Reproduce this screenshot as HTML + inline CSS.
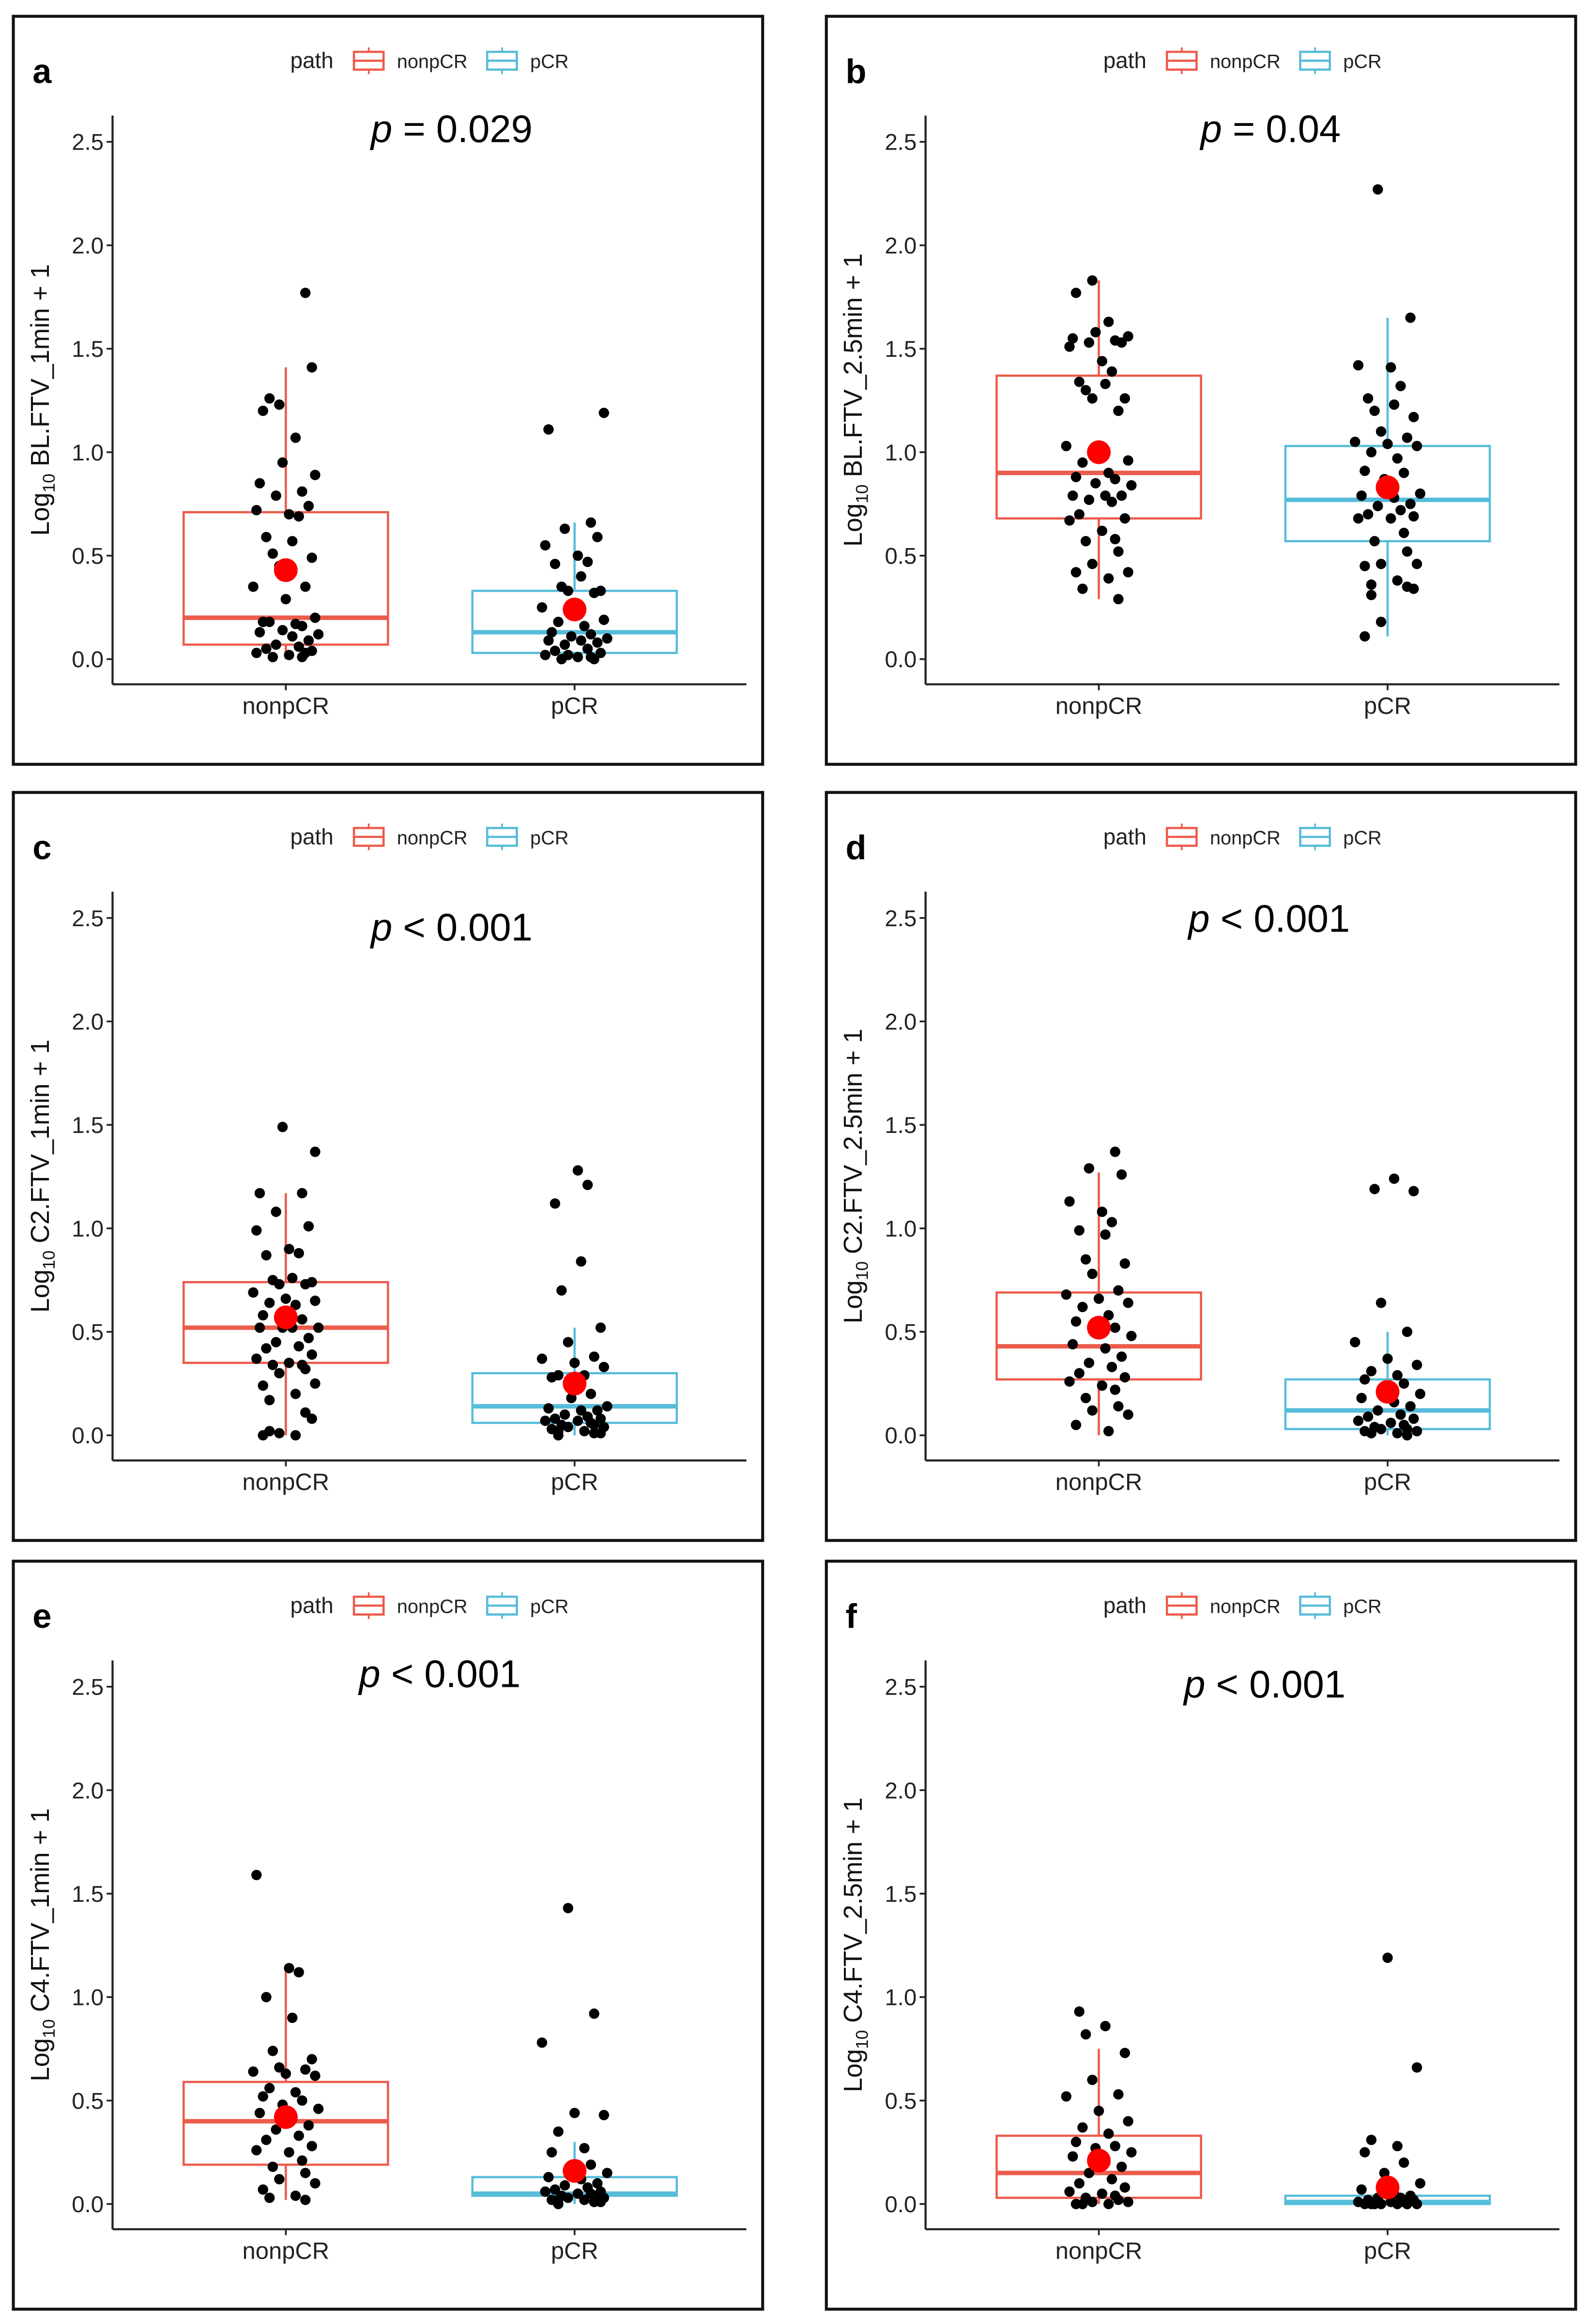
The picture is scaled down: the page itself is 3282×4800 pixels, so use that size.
<!DOCTYPE html>
<html><head><meta charset="utf-8">
<style>
html,body{margin:0;padding:0;background:#fff;}
svg{display:block;font-family:"Liberation Sans",Arial,sans-serif;}
</style></head>
<body>
<svg id="fig" width="3282" height="4800" viewBox="0 0 1073 1569" preserveAspectRatio="none" xmlns="http://www.w3.org/2000/svg"></svg>
<script>
const categories = ["nonpCR","pCR"];
const panelLetters = ["a","b","c","d","e","f"];
const pLabels = ["= 0.029","= 0.04","< 0.001","< 0.001","< 0.001","< 0.001"];
const yTitles = ["BL.FTV_1min + 1","BL.FTV_2.5min + 1","C2.FTV_1min + 1","C2.FTV_2.5min + 1","C4.FTV_1min + 1","C4.FTV_2.5min + 1"];
const yTicks = [0,0.5,1,1.5,2,2.5];
const yTickLabels = ["0.0","0.5","1.0","1.5","2.0","2.5"];

const valsA_non = [1.77,1.41,1.26,1.23,1.20,1.07,0.95,0.89,0.85,0.81,0.79,0.74,0.72,0.70,0.69,0.59,0.57,0.51,0.49,0.45,0.35,0.35,0.29,0.20,0.18,0.17,0.18,0.16,0.14,0.12,0.13,0.11,0.09,0.07,0.06,0.05,0.04,0.03,0.02,0.01,0.01,0.03];
const valsA_pcr = [1.19,1.11,0.66,0.63,0.59,0.55,0.50,0.47,0.46,0.40,0.35,0.33,0.33,0.32,0.25,0.23,0.19,0.18,0.16,0.13,0.12,0.11,0.10,0.09,0.09,0.08,0.07,0.05,0.04,0.03,0.02,0.01,0.01,0.0,0.0,0.02];
const valsB_non = [1.83,1.77,1.63,1.58,1.56,1.55,1.54,1.53,1.53,1.51,1.44,1.39,1.34,1.33,1.30,1.26,1.26,1.20,1.03,0.98,0.96,0.95,0.90,0.88,0.87,0.85,0.84,0.79,0.79,0.79,0.77,0.76,0.70,0.68,0.67,0.62,0.58,0.57,0.52,0.46,0.42,0.42,0.39,0.34,0.29];
const valsB_pcr = [2.27,1.65,1.42,1.41,1.32,1.26,1.23,1.20,1.17,1.10,1.07,1.05,1.04,1.03,1.00,0.97,0.91,0.90,0.87,0.80,0.79,0.78,0.75,0.74,0.72,0.70,0.69,0.68,0.68,0.61,0.57,0.52,0.46,0.46,0.45,0.38,0.36,0.35,0.34,0.31,0.18,0.11];
const valsC_non = [1.49,1.37,1.17,1.17,1.08,1.01,0.99,0.90,0.88,0.87,0.76,0.75,0.74,0.73,0.73,0.69,0.66,0.65,0.64,0.63,0.58,0.56,0.52,0.52,0.52,0.52,0.47,0.45,0.43,0.42,0.39,0.37,0.35,0.34,0.34,0.32,0.30,0.25,0.24,0.20,0.17,0.11,0.08,0.02,0.01,0.0,0.0];
const valsC_pcr = [1.28,1.21,1.12,0.84,0.70,0.52,0.45,0.38,0.37,0.35,0.33,0.29,0.29,0.28,0.20,0.18,0.14,0.13,0.12,0.12,0.10,0.09,0.08,0.08,0.07,0.07,0.06,0.05,0.05,0.04,0.04,0.03,0.02,0.02,0.01,0.01,0.0];
const valsD_non = [1.37,1.29,1.26,1.13,1.08,1.03,0.99,0.97,0.85,0.83,0.78,0.70,0.68,0.66,0.64,0.62,0.58,0.55,0.52,0.50,0.48,0.44,0.42,0.38,0.35,0.33,0.30,0.28,0.26,0.24,0.22,0.18,0.14,0.12,0.10,0.05,0.02];
const valsD_pcr = [1.24,1.19,1.18,0.64,0.50,0.45,0.37,0.34,0.31,0.29,0.27,0.25,0.22,0.20,0.18,0.16,0.14,0.12,0.10,0.09,0.08,0.07,0.06,0.05,0.04,0.03,0.03,0.02,0.02,0.01,0.01,0.0];
const valsE_non = [1.59,1.14,1.12,1.00,0.90,0.74,0.70,0.66,0.65,0.64,0.63,0.62,0.56,0.54,0.52,0.50,0.48,0.46,0.44,0.41,0.38,0.36,0.33,0.31,0.28,0.26,0.25,0.21,0.18,0.15,0.12,0.10,0.07,0.04,0.03,0.02];
const valsE_pcr = [1.43,0.92,0.78,0.44,0.43,0.35,0.27,0.25,0.19,0.17,0.15,0.13,0.12,0.10,0.09,0.08,0.07,0.06,0.06,0.05,0.05,0.04,0.04,0.03,0.03,0.02,0.02,0.02,0.01,0.01,0.0];
const valsF_non = [0.93,0.86,0.82,0.73,0.60,0.53,0.52,0.45,0.40,0.37,0.34,0.30,0.28,0.27,0.25,0.23,0.20,0.18,0.15,0.12,0.10,0.08,0.06,0.05,0.04,0.03,0.02,0.01,0.01,0.0,0.0,0.0];
const valsF_pcr = [1.19,0.66,0.31,0.28,0.25,0.20,0.15,0.10,0.07,0.05,0.04,0.03,0.03,0.02,0.02,0.01,0.01,0.01,0.0,0.0,0.0,0.0,0.0,0.0,0.0,0.0];
const boxA = [[0,0.07,0.20,0.71,1.41],[0,0.03,0.13,0.33,0.66]];
const boxB = [[0.29,0.68,0.90,1.37,1.83],[0.11,0.57,0.77,1.03,1.65]];
const boxC = [[0,0.35,0.52,0.74,1.17],[0,0.06,0.14,0.30,0.52]];
const boxD = [[0,0.27,0.43,0.69,1.27],[0,0.03,0.12,0.27,0.50]];
const boxE = [[0.02,0.19,0.40,0.59,1.14],[0,0.04,0.05,0.13,0.30]];
const boxF = [[0,0.03,0.15,0.33,0.75],[0,0.0,0.01,0.04,0.10]];
const meansA = [0.43,0.24], meansB = [1.00,0.83], meansC = [0.57,0.25];
const meansD = [0.52,0.21], meansE = [0.42,0.16], meansF = [0.21,0.08];
const jitter = [0.6,0.8,-0.5,-0.2,-0.7,0.3,-0.1,0.9,-0.8,0.5,-0.3,0.7,-0.9,0.1,0.4,-0.6,0.2,-0.4,0.8,-0.2,0.6,-1.0,0.0,0.9,-0.5,0.3,-0.7,0.5,-0.1,1.0,-0.8,0.2,0.7,-0.3,0.4,-0.6,0.8,-0.9,0.1,0.5,-0.4,0.6,-0.2,0.9,-0.7,0.3,-0.5];

const panelVals = [[valsA_non,valsA_pcr],[valsB_non,valsB_pcr],[valsC_non,valsC_pcr],[valsD_non,valsD_pcr],[valsE_non,valsE_pcr],[valsF_non,valsF_pcr]];
const panelBoxes = [boxA,boxB,boxC,boxD,boxE,boxF];
const panelMeans = [meansA,meansB,meansC,meansD,meansE,meansF];

const NS = "http://www.w3.org/2000/svg";
const svg = document.getElementById("fig");
const colors = ["#EC5B4B","#56BCD9"];
const colOff = [0,549], rowOff = [0,524,1043];
const pY = [96,96,111,105,96,103], pX = [305,309,305,308,297,305];

function mk(tag, attrs, parent){ const e=document.createElementNS(NS,tag); for(const k in attrs) e.setAttribute(k,attrs[k]); (parent||svg).appendChild(e); return e; }

for(let p=0;p<6;p++){
  const ox = colOff[p%2], oy = rowOff[Math.floor(p/2)];
  const g = mk("g",{transform:`translate(${ox},${oy})`});
  
  
  const yS = v => 445 - v*139.7;
  const xS = i => 193 + i*195;
  const fr = mk("rect",{x:9,y:11,width:506,height:505,fill:"none",stroke:"#111","stroke-width":2},g);
  
  
  const lt = mk("text",{x:22,y:56,"font-size":23,"font-weight":"bold",fill:"#000"},g); lt.textContent=panelLetters[p];
  
  
  const lg = mk("g",{},g);
  
  
  const lp = mk("text",{x:196,y:46,"font-size":15,fill:"#222"},lg); lp.textContent="path";
  const lx=[239,329], ltx=[268,358];
  for(let c=0;c<2;c++){
    const le = mk("g",{},lg);
    
    
    mk("line",{x1:lx[c]+10,x2:lx[c]+10,y1:32,y2:50,stroke:colors[c],"stroke-width":1.2},le);
    mk("rect",{x:lx[c],y:35,width:20,height:12,fill:"#fff",stroke:colors[c],"stroke-width":1.5},le);
    mk("line",{x1:lx[c],x2:lx[c]+20,y1:41,y2:41,stroke:colors[c],"stroke-width":1.5},le);
    const t = mk("text",{x:ltx[c],y:46,"font-size":13,fill:"#222"},le); t.textContent=categories[c];
  }
  const pt = mk("text",{x:pX[p],y:pY[p],"font-size":26,"text-anchor":"middle",fill:"#000"},g);
  
  
  const ti = mk("tspan",{"font-style":"italic"},pt); ti.textContent="p";
  const tr = mk("tspan",{},pt); tr.textContent=" "+pLabels[p];
  const ya = mk("line",{x1:76,x2:76,y1:78,y2:462,stroke:"#222","stroke-width":1.4},g);
  
  
  const xa = mk("line",{x1:76,x2:504,y1:462,y2:462,stroke:"#222","stroke-width":1.4},g);
  
  
  yTicks.forEach((v,i)=>{
    mk("line",{x1:72,x2:76,y1:yS(v),y2:yS(v),stroke:"#222","stroke-width":1.2},g);
    const t = mk("text",{x:70,y:yS(v)+5.5,"font-size":15.5,"text-anchor":"end",fill:"#222"},g); t.textContent=yTickLabels[i];
    
    
  });
  categories.forEach((c,i)=>{
    mk("line",{x1:xS(i),x2:xS(i),y1:462,y2:466,stroke:"#222","stroke-width":1.2},g);
    const t = mk("text",{x:xS(i),y:482,"font-size":16,"text-anchor":"middle",fill:"#222"},g); t.textContent=c;
    
    
  });
  const yt = mk("text",{transform:`translate(33,270) rotate(-90)`,"font-size":17.5,"text-anchor":"middle",fill:"#111"},g);
  
  
  const s1 = mk("tspan",{},yt); s1.textContent="Log";
  const s2 = mk("tspan",{"font-size":11.5,dy:4},yt); s2.textContent="10";
  const s3 = mk("tspan",{dy:-4},yt); s3.textContent=" "+yTitles[p];
  for(let c=0;c<2;c++){
    const b = panelBoxes[p][c], x=xS(c);
    const bg = mk("g",{},g);
    
    
    mk("line",{x1:x,x2:x,y1:yS(b[0]),y2:yS(b[1]),stroke:colors[c],"stroke-width":1.5},bg);
    mk("line",{x1:x,x2:x,y1:yS(b[3]),y2:yS(b[4]),stroke:colors[c],"stroke-width":1.5},bg);
    mk("rect",{x:x-69,y:yS(b[3]),width:138,height:Math.max(yS(b[1])-yS(b[3]),1),fill:"none",stroke:colors[c],"stroke-width":1.5},bg);
    mk("line",{x1:x-69,x2:x+69,y1:yS(b[2]),y2:yS(b[2]),stroke:colors[c],"stroke-width":3},bg);
  }
  for(let c=0;c<2;c++){
    panelVals[p][c].forEach((v,i)=>{
      const d = mk("circle",{cx:xS(c)+jitter[(i+c*7+p*3)%jitter.length]*22,cy:yS(v),r:3.5,fill:"#000"},g);
      
      
    });
    const m = mk("circle",{cx:xS(c),cy:yS(panelMeans[p][c]),r:8,fill:"#FF0000"},g);
    
    
  }
}
</script>
</body></html>
